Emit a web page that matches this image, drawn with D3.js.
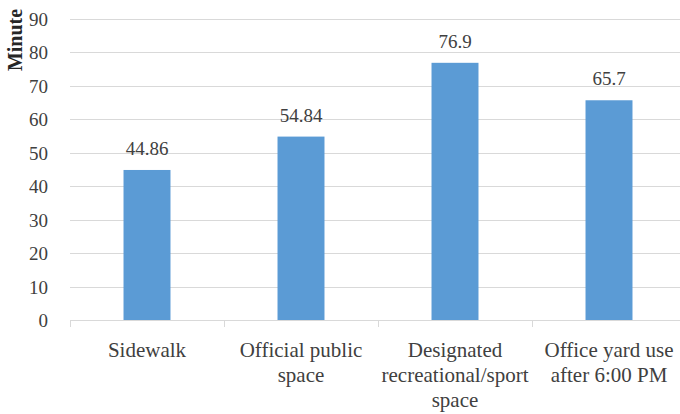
<!DOCTYPE html>
<html>
<head>
<meta charset="utf-8">
<script src="https://cdn.jsdelivr.net/npm/d3@7"></script>
<style>
  html, body { margin: 0; padding: 0; background: #fff; }
  svg { display: block; }
  svg text, svg tspan { font-family: "Liberation Serif", serif !important; }
</style>
</head>
<body>
<svg class="bars-figure" width="680" height="414"></svg>
<script>
// Average time spent per type of space (minutes)
const categories = [
  "Sidewalk",
  "Official public space",
  "Designated recreational/sport space",
  "Office yard use after 6:00 PM"
];
// Wrapped label lines for each category
const categoryLines = [
  ["Sidewalk"],
  ["Official public", "space"],
  ["Designated", "recreational/sport", "space"],
  ["Office yard use", "after 6:00 PM"]
];
const values = [44.86, 54.84, 76.9, 65.7];
const valueLabels = ["44.86", "54.84", "76.9", "65.7"];
const yTicks = [0, 10, 20, 30, 40, 50, 60, 70, 80, 90];
const yTitle = "Minute";

const FONT = "Liberation Serif";
const svg = d3.select("svg.bars-figure");

function serif(sel, size) {
  return sel.attr("font-family", FONT)
    .style("font-family", `"${FONT}"`, "important")
    .style("font-size", size + "px");
}

const x = d3.scaleBand()
  .domain(categories)
  .range([70, 686])
  .padding(0);

const y = d3.scaleLinear()
  .domain([0, 90])
  .range([320, 19]);

const textColor = "#404040";
const gridColor = "#d9d9d9";

// Horizontal gridlines
svg.append("g")
  .selectAll("line")
  .data(yTicks.filter(t => t > 0))
  .join("line")
  .attr("x1", 70)
  .attr("x2", 680)
  .attr("y1", d => Math.round(y(d)) + 0.5)
  .attr("y2", d => Math.round(y(d)) + 0.5)
  .attr("stroke", gridColor)
  .attr("stroke-width", 1);

// Y axis tick labels
const yAxis = d3.axisLeft(y).tickValues(yTicks).tickSize(0).tickPadding(0);
const gy = svg.append("g")
  .attr("transform", "translate(48,0)")
  .call(yAxis);
gy.attr("font-family", FONT).attr("font-size", 19);
gy.select(".domain").remove();
serif(gy.selectAll("text"), 19)
  .attr("fill", textColor)
  .attr("dy", "0.34em");

// Y axis title
serif(svg.append("text"), 20)
  .attr("transform", "translate(22,40) rotate(-90)")
  .attr("text-anchor", "middle")
  .style("font-weight", "bold")
  .attr("fill", "#262626")
  .text(yTitle);

// Bars
const barFrac = 0.305;
svg.append("g")
  .selectAll("rect")
  .data(values)
  .join("rect")
  .attr("x", (d, i) => x(categories[i]) + x.bandwidth() * (1 - barFrac) / 2)
  .attr("width", x.bandwidth() * barFrac)
  .attr("y", d => y(d))
  .attr("height", d => y(0) - y(d))
  .attr("fill", "#5b9bd5");

// Value labels
serif(svg.append("g")
  .selectAll("text")
  .data(values)
  .join("text"), 19)
  .attr("x", (d, i) => x(categories[i]) + x.bandwidth() / 2)
  .attr("y", d => y(d) - 15)
  .attr("text-anchor", "middle")
  .attr("fill", textColor)
  .text((d, i) => valueLabels[i]);

// X axis baseline and category separators
const xAxis = d3.axisBottom(x).tickSize(0).tickFormat("");
const gx = svg.append("g")
  .attr("transform", "translate(0,320.5)")
  .call(xAxis);
gx.select(".domain").attr("stroke", gridColor).attr("d", "M70,0H680");
gx.selectAll(".tick").remove();
svg.append("g")
  .selectAll("line")
  .data(categories.map((c, i) => i))
  .join("line")
  .attr("x1", i => Math.round(x(categories[i])) + 0.5)
  .attr("x2", i => Math.round(x(categories[i])) + 0.5)
  .attr("y1", 320)
  .attr("y2", 327)
  .attr("stroke", gridColor);

// Category labels
const labels = serif(svg.append("g")
  .selectAll("text")
  .data(categoryLines)
  .join("text"), 21)
  .attr("text-anchor", "middle")
  .attr("fill", textColor);
labels.each(function(lines, i) {
  const cx = x(categories[i]) + x.bandwidth() / 2;
  d3.select(this).selectAll("tspan")
    .data(lines)
    .join("tspan")
    .attr("x", cx)
    .attr("y", (l, j) => 357 + j * 25)
    .text(l => l);
});
</script>
</body>
</html>
